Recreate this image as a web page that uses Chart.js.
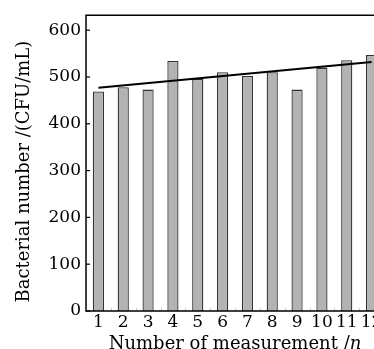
<!DOCTYPE html>
<html>
<head>
<meta charset="utf-8">
<script src="https://cdn.jsdelivr.net/npm/chart.js@4/dist/chart.umd.min.js"></script>
<style>
html,body{margin:0;padding:0;overflow:hidden;background:#fff;}
#wrap{width:400px;height:365px;position:relative;}
</style>
</head>
<body>
<div id="wrap"><canvas id="c" width="400" height="365"></canvas></div>
<script>
const categories = ['1','2','3','4','5','6','7','8','9','10','11','12'];
const bacterialCounts = [469, 478, 473, 534, 496, 510, 502, 510, 473, 520, 536, 547];
const trendLine = [477, null, null, null, null, null, null, null, null, null, null, 532];
const yTicks = [0, 100, 200, 300, 400, 500, 600];
const yTitle = 'Bacterial number /(CFU/mL)';
const xTitleMain = 'Number of measurement /';
const xTitleVar = 'n';

const FONT = "'DejaVu Serif', 'Liberation Serif', serif";

const frameAndTicks = {
  id: 'frameAndTicks',
  afterDraw(chart) {
    const ctx = chart.ctx;
    const a = chart.chartArea;
    const ys = chart.scales.y, xs = chart.scales.x;
    ctx.save();
    // inward x ticks (category boundaries)
    ctx.strokeStyle = '#c8c8c8';
    ctx.lineWidth = 1;
    for (let i = 1; i < categories.length; i++) {
      const x = Math.round((xs.getPixelForValue(i - 1) + xs.getPixelForValue(i)) / 2) + 0.5;
      ctx.beginPath();
      ctx.moveTo(x, a.bottom);
      ctx.lineTo(x, a.bottom - 3);
      ctx.stroke();
    }
    // inward y ticks
    ctx.strokeStyle = '#000';
    ctx.lineWidth = 1.2;
    yTicks.forEach(v => {
      const y = ys.getPixelForValue(v);
      ctx.beginPath();
      ctx.moveTo(a.left, y);
      ctx.lineTo(a.left + 4, y);
      ctx.stroke();
    });
    // frame
    ctx.lineWidth = 1.5;
    ctx.strokeStyle = '#000';
    ctx.beginPath();
    ctx.rect(a.left, a.top, a.right - a.left, a.bottom - a.top);
    ctx.stroke();
    // x axis title with italic n
    ctx.fillStyle = '#000';
    ctx.textBaseline = 'alphabetic';
    ctx.font = "18px " + FONT;
    const w1 = ctx.measureText(xTitleMain).width;
    ctx.font = "italic 18px " + FONT;
    const w2 = ctx.measureText(xTitleVar).width;
    const cx = (a.left + a.right) / 2;
    const startX = cx - (w1 + w2) / 2;
    const baseY = 348.5;
    ctx.font = "18px " + FONT;
    ctx.textAlign = 'left';
    ctx.fillText(xTitleMain, startX, baseY);
    ctx.font = "italic 18px " + FONT;
    ctx.fillText(xTitleVar, startX + w1, baseY);
    // y axis title
    ctx.save();
    ctx.translate(29, (a.top + a.bottom) / 2 + 8.5);
    ctx.rotate(-Math.PI / 2);
    ctx.font = "18px " + FONT;
    ctx.textAlign = 'center';
    ctx.textBaseline = 'alphabetic';
    ctx.fillText(yTitle, 0, 0);
    ctx.restore();
    ctx.restore();
  }
};

new Chart(document.getElementById('c'), {
  data: {
    labels: categories,
    datasets: [
      {
        type: 'line',
        data: trendLine,
        borderColor: '#000',
        borderWidth: 2,
        pointRadius: 0,
        spanGaps: true,
        tension: 0,
        order: 0
      },
      {
        type: 'bar',
        data: bacterialCounts,
        backgroundColor: '#b3b3b3',
        borderColor: '#333',
        borderWidth: 1.3,
        categoryPercentage: 1,
        barPercentage: 0.45,
        order: 1
      }
    ]
  },
  plugins: [frameAndTicks],
  options: {
    responsive: false,
    animation: false,
    layout: { padding: { top: 14, right: 16, bottom: 0, left: 0 } },
    plugins: { legend: { display: false }, tooltip: { enabled: false } },
    scales: {
      x: {
        grid: { display: false, drawTicks: false },
        border: { display: false },
        ticks: { color: '#000', font: { family: FONT, size: 17 }, padding: 1, maxRotation: 0, autoSkip: false },
        afterFit: s => { s.height = 54; }
      },
      y: {
        min: 0,
        max: 632,
        afterBuildTicks: s => { s.ticks = yTicks.map(v => ({ value: v })); },
        grid: { display: false, drawTicks: false },
        border: { display: false },
        ticks: { color: '#000', font: { family: FONT, size: 17 }, padding: 5 },
        afterFit: s => { s.width = 86; }
      }
    }
  }
});
</script>
</body>
</html>
